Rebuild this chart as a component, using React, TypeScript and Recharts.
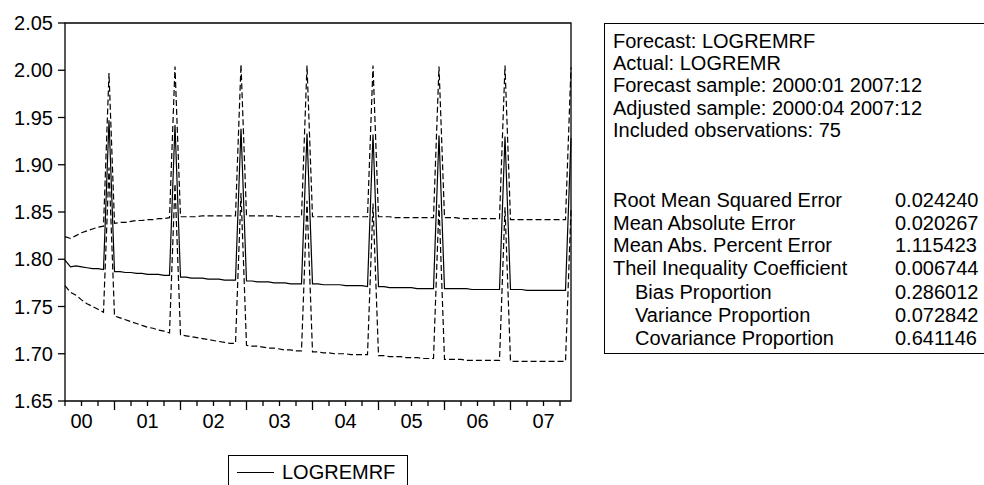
import React from 'react';
import { LineChart, Line, XAxis, YAxis, ReferenceArea } from 'recharts';

// monthly forecast 2000:04 .. 2007:12 (93 obs), index 0 = 2000:04
const forecast = [
  1.799, 1.792, 1.793, 1.792, 1.791, 1.790, 1.790, 1.789, 1.947,
  1.787, 1.787, 1.786, 1.786, 1.785, 1.785, 1.784, 1.784, 1.784, 1.783, 1.783, 1.942,
  1.781, 1.781, 1.780, 1.780, 1.780, 1.779, 1.779, 1.779, 1.778, 1.778, 1.778, 1.938,
  1.777, 1.777, 1.776, 1.776, 1.776, 1.775, 1.775, 1.775, 1.774, 1.774, 1.774, 1.933,
  1.774, 1.774, 1.773, 1.773, 1.773, 1.773, 1.772, 1.772, 1.772, 1.772, 1.771, 1.932,
  1.771, 1.771, 1.770, 1.770, 1.770, 1.770, 1.770, 1.769, 1.769, 1.769, 1.769, 1.931,
  1.769, 1.769, 1.769, 1.769, 1.769, 1.768, 1.768, 1.768, 1.768, 1.768, 1.768, 1.930,
  1.768, 1.768, 1.768, 1.767, 1.767, 1.767, 1.767, 1.767, 1.767, 1.767, 1.767, 1.928,
];

// forecast + 2 S.E.
const upper = [
  1.824, 1.822, 1.825, 1.828, 1.830, 1.832, 1.834, 1.835, 1.997,
  1.838, 1.839, 1.839, 1.840, 1.841, 1.841, 1.842, 1.842, 1.843, 1.843, 1.844, 2.004,
  1.845, 1.845, 1.845, 1.845, 1.846, 1.846, 1.846, 1.846, 1.846, 1.846, 1.846, 2.006,
  1.846, 1.846, 1.846, 1.846, 1.846, 1.846, 1.845, 1.845, 1.845, 1.845, 1.845, 2.005,
  1.845, 1.845, 1.845, 1.845, 1.845, 1.845, 1.845, 1.845, 1.845, 1.845, 1.845, 2.005,
  1.845, 1.845, 1.845, 1.844, 1.844, 1.844, 1.844, 1.844, 1.844, 1.844, 1.844, 2.004,
  1.844, 1.844, 1.844, 1.843, 1.843, 1.843, 1.843, 1.843, 1.843, 1.843, 1.843, 2.005,
  1.842, 1.842, 1.842, 1.842, 1.842, 1.842, 1.842, 1.842, 1.842, 1.842, 1.842, 2.003,
];

// forecast - 2 S.E.
const lower = [
  1.772, 1.765, 1.762, 1.757, 1.753, 1.750, 1.747, 1.744, 1.897,
  1.740, 1.738, 1.736, 1.734, 1.732, 1.730, 1.728, 1.727, 1.725, 1.724, 1.722, 1.880,
  1.720, 1.719, 1.718, 1.717, 1.716, 1.715, 1.714, 1.713, 1.712, 1.711, 1.711, 1.870,
  1.709, 1.708, 1.708, 1.707, 1.706, 1.706, 1.705, 1.704, 1.704, 1.703, 1.703, 1.862,
  1.702, 1.702, 1.701, 1.701, 1.700, 1.700, 1.700, 1.699, 1.699, 1.699, 1.699, 1.859,
  1.698, 1.698, 1.697, 1.697, 1.697, 1.696, 1.696, 1.696, 1.695, 1.695, 1.695, 1.858,
  1.694, 1.694, 1.694, 1.694, 1.693, 1.693, 1.693, 1.693, 1.693, 1.693, 1.693, 1.855,
  1.692, 1.692, 1.692, 1.692, 1.692, 1.692, 1.692, 1.692, 1.692, 1.692, 1.692, 1.853,
];

const yTicks = [1.65, 1.7, 1.75, 1.8, 1.85, 1.9, 1.95, 2.0, 2.05];
// quarter ticks (Apr/Jul/Oct/Jan), index from 2000:04
const quarterTicks = [0, 3, 6, 9, 12, 15, 18, 21, 24, 27, 30, 33, 36, 39, 42, 45, 48, 51, 54, 57, 60, 63, 66, 69, 72, 75, 78, 81, 84, 87, 90];
const januaryTicks = [9, 21, 33, 45, 57, 69, 81];
const yearTickPos = [3, 15, 27, 39, 51, 63, 75, 87];
const yearLabels = ['00', '01', '02', '03', '04', '05', '06', '07'];

const headerLines = [
  'Forecast: LOGREMRF',
  'Actual: LOGREMR',
  'Forecast sample: 2000:01 2007:12',
  'Adjusted sample: 2000:04 2007:12',
  'Included observations: 75',
];
const statLabels = [
  'Root Mean Squared Error',
  'Mean Absolute Error',
  'Mean Abs. Percent Error',
  'Theil Inequality Coefficient',
  'Bias Proportion',
  'Variance Proportion',
  'Covariance Proportion',
];
const statValues = ['0.024240', '0.020267', '1.115423', '0.006744', '0.286012', '0.072842', '0.641146'];
const statIndent = [false, false, false, false, true, true, true];

const FONT = '"Liberation Sans", Arial, Helvetica, sans-serif';

const data = forecast.map((f, i) => ({ i, f, up: upper[i], lo: lower[i] }));

const QuarterTick = (props: any) => {
  const { x, y, payload } = props;
  const v = payload.value;
  const major = januaryTicks.includes(v);
  const yi = yearTickPos.indexOf(v);
  return (
    <g>
      <line x1={x} x2={x} y1={y} y2={y + (major ? 9 : 5)} stroke="#000" strokeWidth={1.3} />
      {yi >= 0 && (
        <text x={x} y={y + 27} textAnchor="middle" fontSize={20} fontFamily={FONT} fill="#000">
          {yearLabels[yi]}
        </text>
      )}
    </g>
  );
};

export default function App() {
  return (
    <div style={{ position: 'fixed', left: 0, top: 0, width: 984, height: 485, background: '#fff', overflow: 'hidden', fontFamily: FONT, color: '#000' }}>
      <LineChart width={984} height={485} data={data} margin={{ top: 23, right: 413, bottom: 44, left: 0 }}>
        <XAxis
          dataKey="i"
          type="number"
          domain={[0, 92]}
          ticks={quarterTicks}
          interval={0}
          tickLine={false}
          axisLine={false}
          tickSize={0}
          tickMargin={0}
          height={40}
          tick={<QuarterTick />}
        />
        <YAxis
          type="number"
          domain={[1.65, 2.05]}
          ticks={yTicks}
          interval={0}
          allowDataOverflow
          width={65}
          axisLine={false}
          tickSize={7}
          tickMargin={5}
          tickLine={{ stroke: '#000', strokeWidth: 1.3 }}
          tickFormatter={(v: number) => v.toFixed(2)}
          tick={{ fontSize: 20, fontFamily: FONT, fill: '#000' }}
        />
        <ReferenceArea x1={0} x2={92} y1={1.65} y2={2.05} fill="none" stroke="#000" strokeWidth={1.3} />
        <Line type="linear" dataKey="up" stroke="#000" strokeWidth={1.2} strokeDasharray="6 3" dot={false} isAnimationActive={false} />
        <Line type="linear" dataKey="lo" stroke="#000" strokeWidth={1.2} strokeDasharray="6 3" dot={false} isAnimationActive={false} />
        <Line type="linear" dataKey="f" stroke="#000" strokeWidth={1.2} dot={false} isAnimationActive={false} />
      </LineChart>

      {/* legend */}
      <div style={{ position: 'absolute', left: 228, top: 455, width: 180, height: 40, border: '1px solid #000', boxSizing: 'border-box' }}>
        <div style={{ position: 'absolute', left: 8, top: 16, width: 37, borderTop: '1.2px solid #000' }} />
        <div style={{ position: 'absolute', left: 53, top: 6, fontSize: 20, lineHeight: '20px', whiteSpace: 'nowrap' }}>LOGREMRF</div>
      </div>

      {/* forecast evaluation box */}
      <div style={{ position: 'absolute', left: 604, top: 23, width: 420, height: 331, border: '1px solid #000', boxSizing: 'border-box', fontSize: 20 }}>
        {headerLines.map((t, k) => (
          <div key={t} style={{ position: 'absolute', left: 8, top: 5.5 + k * 22.4, lineHeight: '22.4px', whiteSpace: 'nowrap' }}>{t}</div>
        ))}
        {statLabels.map((t, k) => (
          <div key={t} style={{ position: 'absolute', left: statIndent[k] ? 30 : 8, top: 165 + k * 22.6 + (k >= 4 ? 2 : 0), lineHeight: '22.4px', whiteSpace: 'nowrap' }}>{t}</div>
        ))}
        {statValues.map((t, k) => (
          <div key={'v' + k} style={{ position: 'absolute', left: 290, top: 165 + k * 22.6 + (k >= 4 ? 2 : 0), lineHeight: '22.4px', whiteSpace: 'nowrap' }}>{t}</div>
        ))}
      </div>
    </div>
  );
}
